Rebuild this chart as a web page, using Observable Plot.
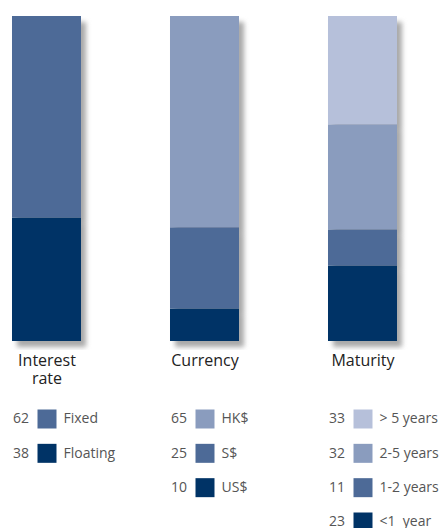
<!DOCTYPE html>
<html>
<head>
<meta charset="utf-8">
<script src="https://cdn.jsdelivr.net/npm/d3@7"></script>
<script src="https://cdn.jsdelivr.net/npm/@observablehq/plot@0.6"></script>
<style>
  html, body { margin: 0; padding: 0; background: #fff; }
  #chart { width: 441px; height: 528px; overflow: hidden; }
  #chart svg { display: block; white-space: pre; }
</style>
</head>
<body>
<div id="chart"></div>
<script>
// ---- data ----
const groups = ["Interest rate", "Currency", "Maturity"];
const interestLabels = ["Fixed", "Floating"];
const interestValues = [62, 38];
const currencyLabels = ["HK$", "S$", "US$"];
const currencyValues = [65, 25, 10];
const maturityLabels = ["> 5 years", "2-5 years", "1-2 years", "<1  year"];
const maturityValues = [33, 32, 11, 23];

// ---- styling ----
const palette = ["#b6c0da", "#8a9cbe", "#4d6a97", "#003366"];
const font = "'Open Sans', 'Noto Sans', sans-serif";

const series = [
  {group: groups[0], labels: interestLabels, values: interestValues},
  {group: groups[1], labels: currencyLabels, values: currencyValues},
  {group: groups[2], labels: maturityLabels, values: maturityValues}
];

// rows listed top-to-bottom; shade: darkest for last item
const rows = [];
for (const s of series) {
  const n = s.labels.length;
  s.labels.forEach((label, i) => {
    rows.push({group: s.group, label, value: s.values[i], row: i, shade: 4 - n + i});
  });
}
// stacking order: bottom segment first
const stackRows = series.flatMap(s => rows.filter(r => r.group === s.group).reverse());

const xScale = () => ({type: "band", domain: groups, paddingInner: 0.566, paddingOuter: 0, axis: null});
const W = 441, H1 = 350, H2 = 178;

const bars = Plot.plot({
  width: W, height: H1,
  marginTop: 16, marginBottom: 9, marginLeft: 11, marginRight: 43,
  style: {fontFamily: font, background: "#fff"},
  x: xScale(),
  y: {domain: [0, 1], axis: null},
  color: {domain: [0, 1, 2, 3], range: palette},
  marks: [
    Plot.barY(stackRows, Plot.stackY({x: "group", y: "value", offset: "normalize", fill: "#a9a9a9", dx: 5, dy: 6})),
    Plot.barY(stackRows, Plot.stackY({x: "group", y: "value", offset: "normalize", fill: "shade", z: "label"}))
  ]
});
const gs = bars.querySelectorAll("g[aria-label='bar']");
if (gs.length) gs[0].style.filter = "blur(2.6px)";

const legend = Plot.plot({
  width: W, height: H2,
  marginTop: 0, marginBottom: 0, marginLeft: 11, marginRight: 43,
  style: {fontFamily: font, background: "#fff"},
  x: xScale(),
  y: {domain: [0, 3], range: [68.5, 171.5], axis: null},
  color: {domain: [0, 1, 2, 3], range: palette},
  marks: [
    Plot.text(groups, {x: d => d, frameAnchor: "top", dy: 2, lineAnchor: "top", lineWidth: 5,
      lineHeight: 1.15, fontSize: 16, fill: "#222"}),
    Plot.dot(rows, {x: "group", y: "row", symbol: "square", r: 10.72, fill: "shade", stroke: null}),
    Plot.text(rows, {x: "group", y: "row", text: d => String(d.value), textAnchor: "start", dx: -34,
      fontSize: 14, fill: "#555"}),
    Plot.text(rows, {x: "group", y: "row", text: "label", textAnchor: "start", dx: 16.5,
      fontSize: 14, fill: "#555"})
  ]
});

const root = document.getElementById("chart");
root.appendChild(bars);
root.appendChild(legend);
</script>
</body>
</html>
